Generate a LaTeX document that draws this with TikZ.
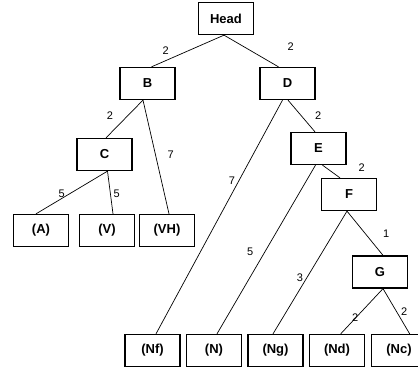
\documentclass[tikz,border=0pt]{standalone}
\usepackage{fontspec}
\setmainfont{Liberation Sans}
\begin{document}
\begin{tikzpicture}[x=1pt,y=-1pt,
  box/.style={draw,line width=1.3pt,minimum width=55pt,minimum height=32pt,inner sep=0pt,font=\fontsize{13}{15}\selectfont\bfseries},
  edge/.style={line width=0.7pt},
  wt/.style={inner sep=0pt,font=\fontsize{11}{13}\selectfont}]
\useasboundingbox[fill=white] (0,0) rectangle (418,372);
\node[box] (Head) at (226,18.5) {Head};
\node[box] (B) at (147.5,83.5) {B};
\node[box] (D) at (287.5,83.5) {D};
\node[box] (C) at (104.5,154.5) {C};
\node[box] (E) at (318.5,148.5) {E};
\node[box] (F) at (349,194.5) {F};
\node[box] (A) at (41,230.5) {(A)};
\node[box] (V) at (107,230.5) {(V)};
\node[box] (VH) at (167,230.5) {(VH)};
\node[box] (G) at (380,272) {G};
\node[box] (Nf) at (152.5,350.5) {(Nf)};
\node[box] (N) at (214,350.5) {(N)};
\node[box] (Ng) at (275.5,350.5) {(Ng)};
\node[box] (Nd) at (337,350.5) {(Nd)};
\node[box] (Nc) at (399,350.5) {(Nc)};
\draw[edge] ([xshift=-2pt]Head.south) -- ([xshift=4pt]B.north);
\draw[edge] ([xshift=-2pt]Head.south) -- ([xshift=-9pt]D.north);
\draw[edge] ([xshift=-4.5pt]B.south) -- ([xshift=1.5pt]C.north);
\draw[edge] ([xshift=-4.5pt]B.south) -- ([xshift=2pt]VH.north);
\draw[edge] ([xshift=-5pt]D.south) -- ([xshift=3.5pt]Nf.north);
\draw[edge] ([xshift=0.5pt]D.south) -- ([xshift=-3.5pt]E.north);
\draw[edge] ([xshift=-3pt]E.south) -- ([xshift=3pt]N.north);
\draw[edge] ([xshift=4pt]E.south) -- ([xshift=-9pt]F.north);
\draw[edge] ([xshift=3pt]C.south) -- ([xshift=-5pt]A.north);
\draw[edge] ([xshift=3pt]C.south) -- ([xshift=6pt]V.north);
\draw[edge] ([xshift=-2pt]F.south) -- ([xshift=-2.5pt]Ng.north);
\draw[edge] ([xshift=-2pt]F.south) -- ([xshift=3pt]G.north);
\draw[edge] ([xshift=3pt]G.south) -- ([xshift=3.7pt]Nd.north);
\draw[edge] ([xshift=3pt]G.south) -- ([xshift=10.7pt]Nc.north);
\node[wt] (l1) at (165.7,51) {2};
\node[wt] (l2) at (290.7,47) {2};
\node[wt] (l3) at (110,116) {2};
\node[wt] (l4) at (170.7,155) {7};
\node[wt] (l5) at (232,181) {7};
\node[wt] (l6) at (318.3,116) {2};
\node[wt] (l7) at (250.3,252) {5};
\node[wt] (l8) at (361.7,167.7) {2};
\node[wt] (l9) at (61.7,193.7) {5};
\node[wt] (l10) at (116.7,194) {5};
\node[wt] (l11) at (300,278) {3};
\node[wt] (l12) at (386.3,233.7) {1};
\node[wt] (l13) at (355.3,318) {2};
\node[wt] (l14) at (404.3,311.3) {2};
\end{tikzpicture}
\end{document}
